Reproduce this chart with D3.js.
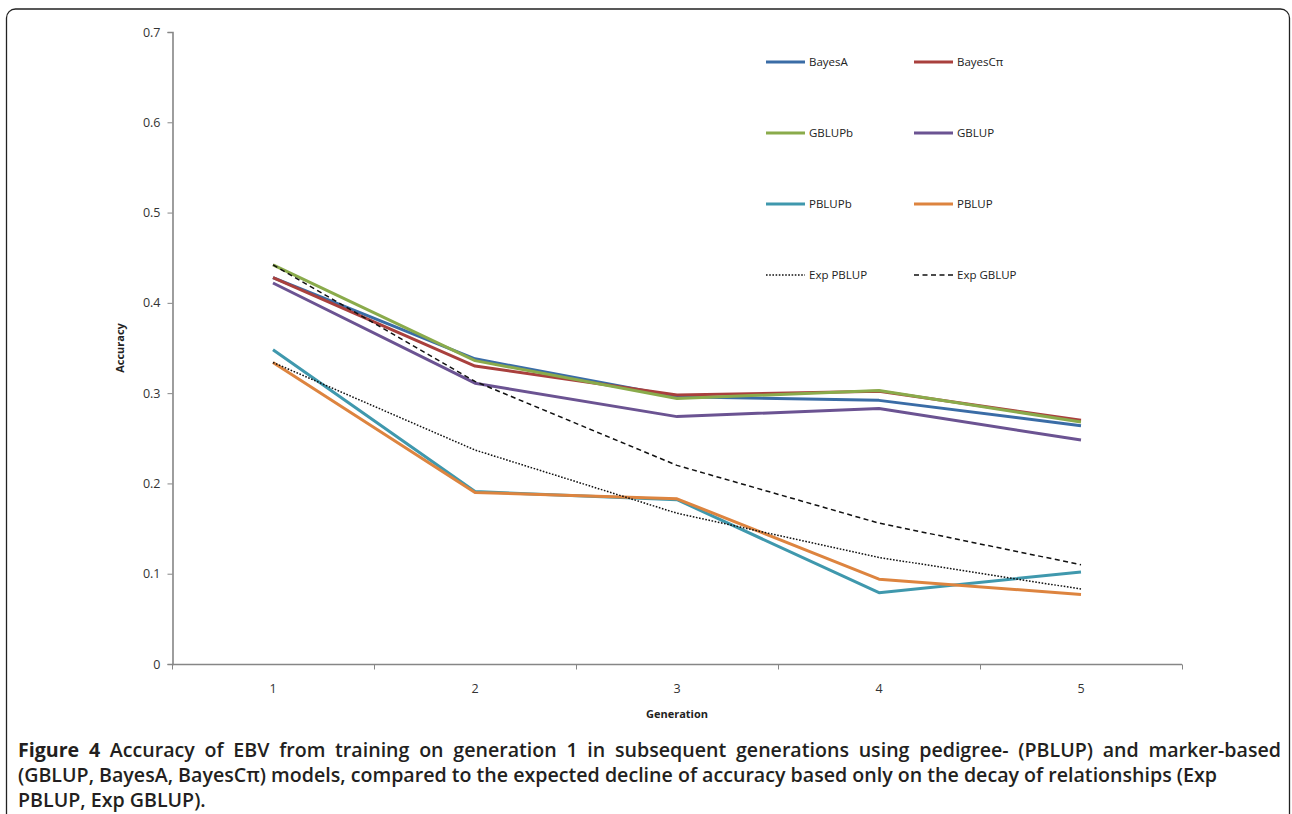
<!DOCTYPE html>
<html>
<head>
<meta charset="utf-8">
<script src="https://cdn.jsdelivr.net/npm/d3@7"></script>
<style>
  body { margin: 0; background: #fff; }
  svg { display: block; }
</style>
</head>
<body>
<svg id="chart" width="1292" height="814"></svg>
<script>
// chart values
var generations = [1, 2, 3, 4, 5];
var yTicks = [0, 0.1, 0.2, 0.3, 0.4, 0.5, 0.6, 0.7];
var seriesNames = ["BayesA", "BayesC\u03c0", "GBLUPb", "GBLUP", "PBLUPb", "PBLUP", "Exp PBLUP", "Exp GBLUP"];
var bayesA   = [0.428, 0.338, 0.296, 0.292, 0.264];
var bayesCpi = [0.428, 0.330, 0.298, 0.302, 0.270];
var gblupB   = [0.442, 0.336, 0.294, 0.303, 0.268];
var gblup    = [0.422, 0.311, 0.274, 0.283, 0.248];
var pblupB   = [0.348, 0.191, 0.182, 0.079, 0.102];
var pblup    = [0.334, 0.190, 0.183, 0.094, 0.077];
var expPblup = [0.334, 0.237, 0.167, 0.118, 0.083];
var expGblup = [0.442, 0.313, 0.220, 0.156, 0.110];

var seriesValues = [bayesA, bayesCpi, gblupB, gblup, pblupB, pblup, expPblup, expGblup];
var colors = ["#3a6ca6", "#a9403d", "#8aab4b", "#6b5392", "#3f98ad", "#dd843f", "#111", "#111"];
var dashes = [null, null, null, null, null, null, "1.6,1.6", "5,3.5"];
var widths = [3, 3, 3, 3, 3, 3, 1.5, 1.5];

var svg = d3.select("#chart");

// outer frame (rounded, open below the page edge)
svg.append("rect")
    .attr("x", 6.5).attr("y", 9)
    .attr("width", 1283).attr("height", 830)
    .attr("rx", 9).attr("ry", 9)
    .style("fill", "none")
    .style("stroke", "#222")
    .style("stroke-width", 1.3);

var margin = { left: 172, top: 32, right: 1182, bottom: 664 };

var x = d3.scaleBand()
    .domain(generations)
    .range([margin.left, margin.right]);

var y = d3.scaleLinear()
    .domain([0, 0.7])
    .range([margin.bottom, margin.top]);

var axisColor = "#868686";
var labelFont = "'Open Sans', 'DejaVu Sans', sans-serif";

// y axis
var yAxis = svg.append("g")
    .attr("transform", "translate(" + (margin.left + 0.5) + ",0)")
    .call(d3.axisLeft(y).tickValues(yTicks).tickSize(5).tickPadding(7)
        .tickFormat(function (d) { return d === 0 ? "0" : d3.format(".1f")(d); }));
yAxis.select(".domain").attr("stroke", axisColor).attr("stroke-width", 1.6);
yAxis.selectAll(".tick line").attr("stroke", axisColor);
yAxis.selectAll("text")
    .style("font-family", labelFont)
    .style("font-size", "12.5px")
    .style("fill", "#333");

// x axis, ticks sit between the categories
var xAxis = svg.append("g")
    .attr("transform", "translate(0," + (margin.bottom + 0.5) + ")");
xAxis.append("line")
    .attr("x1", margin.left).attr("x2", margin.right)
    .attr("stroke", axisColor).attr("stroke-width", 1.6);
var bounds = generations.map(function (g) { return x(g); }).concat([x(5) + x.bandwidth()]);
xAxis.selectAll(".bnd").data(bounds).enter().append("line")
    .attr("class", "bnd")
    .attr("x1", function (d) { return d + 0.5; }).attr("x2", function (d) { return d + 0.5; })
    .attr("y1", 0).attr("y2", 5)
    .attr("stroke", axisColor);
xAxis.selectAll(".lbl").data(generations).enter().append("text")
    .attr("class", "lbl")
    .attr("x", function (d) { return x(d) + x.bandwidth() / 2; })
    .attr("y", 28)
    .attr("text-anchor", "middle")
    .style("font-family", labelFont)
    .style("font-size", "12.5px")
    .style("fill", "#333")
    .text(function (d) { return d; });

// axis titles
svg.append("text")
    .attr("x", (margin.left + margin.right) / 2)
    .attr("y", 718)
    .attr("text-anchor", "middle")
    .style("font-family", labelFont)
    .style("font-size", "11px")
    .style("font-weight", "bold")
    .style("fill", "#222")
    .text("Generation");

svg.append("text")
    .attr("transform", "translate(124,348) rotate(-90)")
    .attr("text-anchor", "middle")
    .style("font-family", labelFont)
    .style("font-size", "11px")
    .style("font-weight", "bold")
    .style("fill", "#222")
    .text("Accuracy");

// series lines
var line = d3.line()
    .x(function (d, i) { return x(generations[i]) + x.bandwidth() / 2; })
    .y(function (d) { return y(d); });

seriesValues.forEach(function (vals, i) {
    svg.append("path")
        .datum(vals)
        .attr("d", line)
        .style("fill", "none")
        .style("stroke", colors[i])
        .style("stroke-width", widths[i])
        .style("stroke-dasharray", dashes[i])
        .style("stroke-linejoin", "round");
});

// legend, two columns
var legend = svg.append("g");
seriesNames.forEach(function (name, i) {
    var lx = (i % 2 === 0) ? 766 : 914;
    var ly = 62 + Math.floor(i / 2) * 71;
    legend.append("line")
        .attr("x1", lx).attr("x2", lx + 39)
        .attr("y1", ly).attr("y2", ly)
        .style("stroke", colors[i])
        .style("stroke-width", widths[i])
        .style("stroke-dasharray", dashes[i]);
    legend.append("text")
        .attr("x", lx + 43)
        .attr("y", ly + 4)
        .style("font-family", labelFont)
        .style("font-size", "11.5px")
        .style("fill", "#222")
        .text(name);
});

// caption
var capFont = "'Open Sans', 'Noto Sans', sans-serif";
var capLines = [
    ["Figure 4", " Accuracy of EBV from training on generation 1 in subsequent generations using pedigree- (PBLUP) and marker-based"],
    ["", "(GBLUP, BayesA, BayesC\u03c0) models, compared to the expected decline of accuracy based only on the decay of relationships (Exp"],
    ["", "PBLUP, Exp GBLUP)."]
];
var capSize = 15;
var capTexts = capLines.map(function (parts, i) {
    var t = svg.append("text")
        .attr("x", 18)
        .attr("y", 757 + i * 25)
        .style("font-family", capFont)
        .style("font-size", capSize + "px")
        .style("font-weight", 600)
        .style("fill", "#231f20");
    if (parts[0]) {
        t.append("tspan").style("font-weight", "bold").text(parts[0]);
    }
    t.append("tspan").text(parts[1]);
    return t;
});
// second line runs to about x=1218 in the figure: size the font to that
var w2 = capTexts[1].node().getComputedTextLength();
capSize = capSize * (1218 - 18) / w2;
capTexts.forEach(function (t) { t.style("font-size", capSize + "px"); });
// justify first line to the frame width
var w1 = capTexts[0].node().getComputedTextLength();
var gaps = (capLines[0][0] + capLines[0][1]).split(" ").length - 1;
capTexts[0].style("word-spacing", Math.max(0, (1281 - 18 - w1) / gaps) + "px");
</script>
</body>
</html>
